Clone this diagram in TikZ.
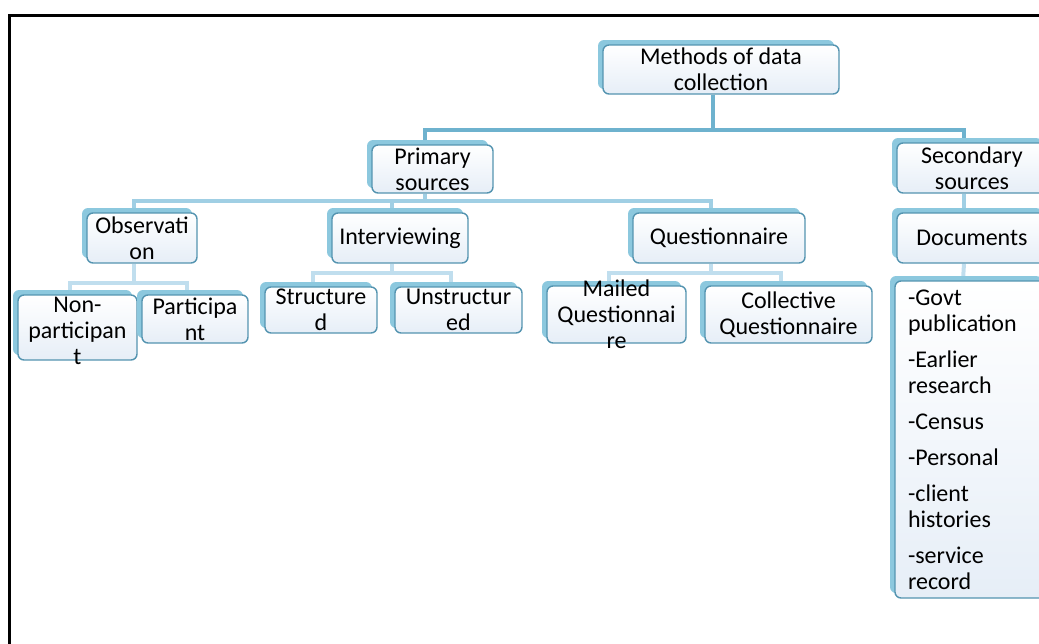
\documentclass[tikz,border=0pt]{standalone}
\usepackage{fontspec}
\setmainfont{Carlito}
\usetikzlibrary{shadows,backgrounds}
\definecolor{boxline}{RGB}{84,148,176}
\definecolor{boxshade}{RGB}{140,200,222}
\definecolor{boxbot}{RGB}{230,238,247}
\definecolor{linedark}{RGB}{110,178,206}
\definecolor{linemid}{RGB}{160,207,228}
\definecolor{linelight}{RGB}{192,222,238}

\begin{document}
\begin{tikzpicture}[x=0.5pt, y=-0.5pt, font=\fontsize{12}{13}\selectfont,
  box/.style={draw=boxline, line width=0.7pt, rounded corners=3pt,
    top color=white, bottom color=boxbot, align=center, inner xsep=1pt, inner ysep=0pt,
    general shadow={fill=boxshade, shadow xshift=-2.5pt, shadow yshift=2.5pt}},
  lvlone/.style={draw=linedark, line width=2pt},
  lvltwo/.style={draw=linemid, line width=2pt},
  lvlthree/.style={draw=linelight, line width=2pt}]
  \useasboundingbox (0,0) rectangle (1039,643);
  \clip (0,0) rectangle (1039,643);
  \draw[line width=1.5pt] (9,15) rectangle (1080,680);

  % top of the tree
  \node[box, minimum width=118pt, minimum height=24.5pt] (root) at (721,69.5) {Methods of data\\collection};
  \node[box, minimum width=60.5pt, minimum height=24pt] (prim) at (432.5,169) {Primary\\sources};
  \node[box, minimum width=75pt, minimum height=25pt] (sec) at (972,168) {Secondary\\sources};

  % primary sources
  \node[box, minimum width=55pt, minimum height=25pt] (obs) at (142,238) {Observati\\on};
  \node[box, minimum width=68pt, minimum height=25pt] (intv) at (400,238) {Interviewing};
  \node[box, minimum width=86pt, minimum height=25pt] (quest) at (719,238) {Questionnaire};
  \node[box, minimum width=59.5pt, minimum height=32.5pt,
    label={[align=center, yshift=-1.5pt]center:Non-\\participan\\t}] (nonp) at (77.5,327.5) {};
  \node[box, minimum width=53pt, minimum height=24pt] (part) at (195,319) {Participa\\nt};
  \node[box, minimum width=56pt, minimum height=23pt] (struc) at (321,310) {Structure\\d};
  \node[box, minimum width=63.5pt, minimum height=23pt] (unstruc) at (458.5,310) {Unstructur\\ed};
  \node[box, minimum width=69.5pt, minimum height=28.5pt,
    label={[align=center]center:Mailed\\Questionnai\\re}] (mailed) at (616.5,314.5) {};
  \node[box, minimum width=83.5pt, minimum height=28.5pt] (coll) at (788.5,314.5) {Collective\\Questionnaire};

  % secondary sources
  \node[box, minimum width=75pt, minimum height=25pt] (docs) at (972,238) {Documents};
  \node[box, minimum width=76pt, minimum height=158.5pt, text width=63pt, align=left,
    inner xsep=6.5pt] (list) at (971,439.5)
    {-Govt\\publication\\[5pt]-Earlier\\research\\[5pt]-Census\\[5pt]-Personal\\[5pt]-client\\histories\\[5pt]-service\\record};

  \begin{scope}[on background layer]
    \draw[lvlone] ([xshift=-4pt]root.south) -- ++(0,35) -| ([xshift=-4pt]prim.north);
    \draw[lvlone] ([xshift=-4pt]root.south) -- ++(0,35) -| ([xshift=-4pt]sec.north);
    \draw[lvltwo] ([xshift=-4pt]prim.south) -- ++(0,7) -| ([xshift=-4pt]obs.north);
    \draw[lvltwo] ([xshift=-4pt]prim.south) -- ++(0,7) -| ([xshift=-4pt]intv.north);
    \draw[lvltwo] ([xshift=-4pt]prim.south) -- ++(0,7) -| ([xshift=-4pt]quest.north);
    \draw[lvltwo] ([xshift=-4pt]sec.south) -- ([xshift=-4pt]docs.north);
    \draw[lvlthree] ([xshift=-4pt]obs.south) -- ++(0,19) -| ([xshift=-4pt]nonp.north);
    \draw[lvlthree] ([xshift=-4pt]obs.south) -- ++(0,19) -| ([xshift=-4pt]part.north);
    \draw[lvlthree] ([xshift=-4pt]intv.south) -- ++(0,9) -| ([xshift=-4pt]struc.north);
    \draw[lvlthree] ([xshift=-4pt]intv.south) -- ++(0,9) -| ([xshift=-4pt]unstruc.north);
    \draw[lvlthree] ([xshift=-4pt]quest.south) -- ++(0,9) -| ([xshift=-4pt]mailed.north);
    \draw[lvlthree] ([xshift=-4pt]quest.south) -- ++(0,9) -| ([xshift=-4pt]coll.north);
    \draw[lvlthree] ([xshift=-4pt]docs.south) -- ([xshift=-4pt]list.north);
  \end{scope}
\end{tikzpicture}
\end{document}
